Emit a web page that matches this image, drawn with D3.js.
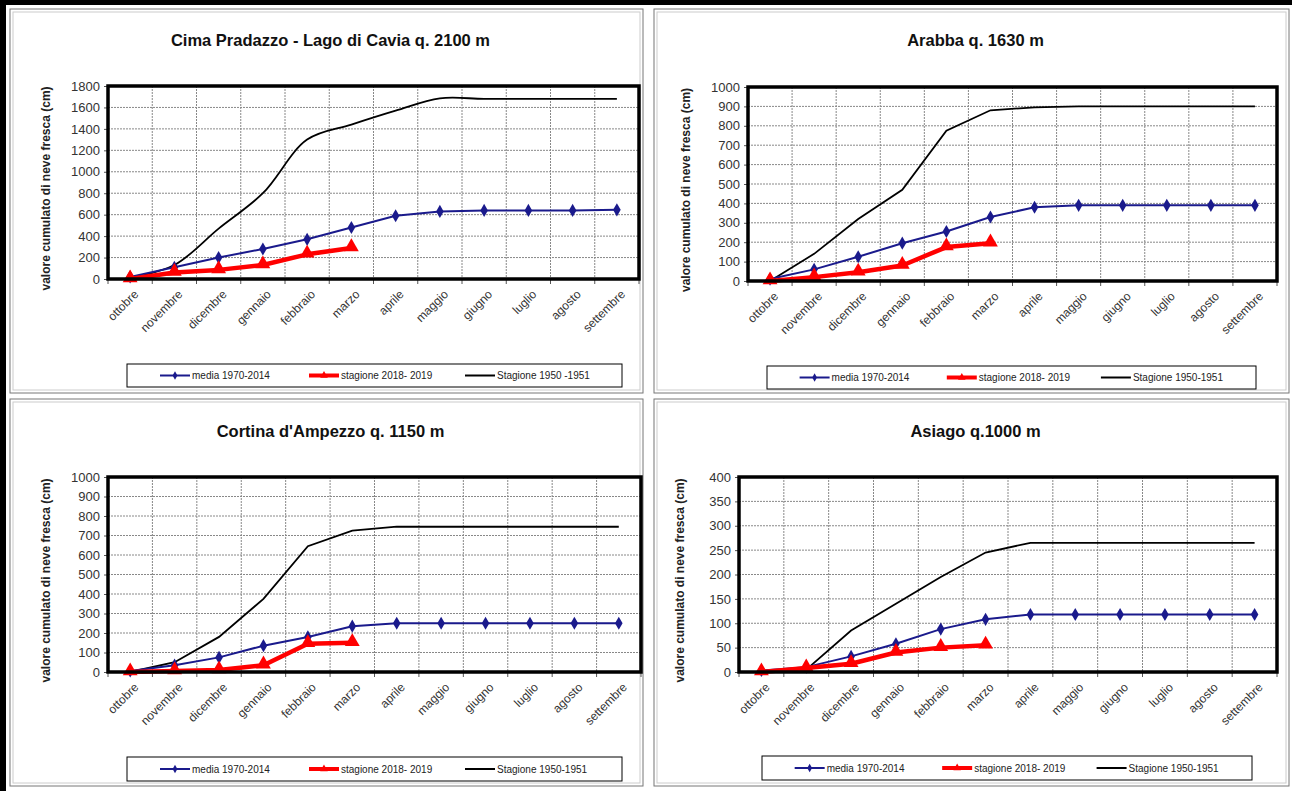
<!DOCTYPE html>
<html>
<head>
<meta charset="utf-8">
<script src="https://cdn.jsdelivr.net/npm/d3@7"></script>
<style>
  body { margin: 0; background: #fff; font-family: "Liberation Sans", Arial, sans-serif; }
  svg { display: block; }
</style>
</head>
<body>
<div id="chart"></div>
<script>
// Months on the x axis
const months = ["ottobre", "novembre", "dicembre", "gennaio", "febbraio", "marzo",
  "aprile", "maggio", "giugno", "luglio", "agosto", "settembre"];

// Cima Pradazzo - Lago di Cavia
const pradazzoMedia = [20, 110, 200, 280, 370, 480, 590, 630, 640, 640, 640, 645];
const pradazzoStagione = [0, 60, 85, 130, 230, 290];
const pradazzo1950 = [10, 130, 470, 800, 1300, 1440, 1570, 1685, 1680, 1680, 1680, 1680];
const pradazzoTicks = [0, 200, 400, 600, 800, 1000, 1200, 1400, 1600, 1800];

// Arabba
const arabbaMedia = [10, 60, 125, 195, 255, 330, 380, 390, 390, 390, 390, 390];
const arabbaStagione = [0, 20, 45, 80, 175, 195];
const arabba1950 = [0, 140, 320, 470, 775, 880, 895, 900, 900, 900, 900, 900];
const arabbaTicks = [0, 100, 200, 300, 400, 500, 600, 700, 800, 900, 1000];

// Cortina d'Ampezzo
const cortinaMedia = [5, 35, 75, 135, 180, 235, 250, 250, 250, 250, 250, 250];
const cortinaStagione = [0, 5, 10, 35, 145, 150];
const cortina1950 = [0, 50, 180, 375, 645, 725, 745, 745, 745, 745, 745, 745];
const cortinaTicks = [0, 100, 200, 300, 400, 500, 600, 700, 800, 900, 1000];

// Asiago
const asiagoMedia = [3, 10, 32, 58, 88, 108, 118, 118, 118, 118, 118, 118];
const asiagoStagione = [0, 8, 17, 40, 50, 55];
const asiago1950 = [null, 5, 85, 140, 195, 245, 265, 265, 265, 265, 265, 265];
const asiagoTicks = [0, 50, 100, 150, 200, 250, 300, 350, 400];

const legendLabels = ["media  1970-2014", "stagione 2018- 2019", "Stagione 1950-1951"];

const W = 1292, H = 791;
const svg = d3.select("#chart").append("svg").attr("width", W).attr("height", H);

// page frame
svg.append("rect").attr("x", 0).attr("y", 0).attr("width", W).attr("height", 5).attr("fill", "#000");
svg.append("rect").attr("x", 0).attr("y", 0).attr("width", 6).attr("height", H).attr("fill", "#000");

const panels = [
  { title: "Cima Pradazzo - Lago di Cavia q. 2100 m", media: pradazzoMedia, stagione: pradazzoStagione,
    old: pradazzo1950, ticks: pradazzoTicks, smooth: true, oldLabel: "Stagione 1950 -1951",
    cell: [10, 9, 633, 384], plot: [108, 86, 639, 279], titleY: 46, yLabelX: 50, legend: [127, 364, 495, 23] },
  { title: "Arabba q. 1630 m", media: arabbaMedia, stagione: arabbaStagione,
    old: arabba1950, ticks: arabbaTicks, smooth: false,
    cell: [654, 9, 635, 384], plot: [748, 87, 1277, 281], titleY: 46, yLabelX: 690, legend: [767, 366, 489, 23] },
  { title: "Cortina d'Ampezzo q. 1150 m", media: cortinaMedia, stagione: cortinaStagione,
    old: cortina1950, ticks: cortinaTicks, smooth: false,
    cell: [10, 399, 633, 387], plot: [108, 477, 641, 672], titleY: 437, yLabelX: 50, legend: [127, 757, 495, 24] },
  { title: "Asiago q.1000 m", media: asiagoMedia, stagione: asiagoStagione,
    old: asiago1950, ticks: asiagoTicks, smooth: false,
    cell: [654, 399, 635, 387], plot: [739, 477, 1277, 672], titleY: 437, yLabelX: 684, legend: [762, 756, 490, 24] }
];

panels.forEach(p => drawPanel(p));

function drawPanel(p) {
  const [cx, cy, cw, ch] = p.cell;
  // cell border (double line look)
  svg.append("rect").attr("x", cx).attr("y", cy).attr("width", cw).attr("height", ch)
    .attr("fill", "#fff").attr("stroke", "#777").attr("stroke-width", 1);
  svg.append("rect").attr("x", cx + 3).attr("y", cy + 3).attr("width", cw - 6).attr("height", ch - 6)
    .attr("fill", "none").attr("stroke", "#ccc").attr("stroke-width", 1);

  const [x0, y0, x1, y1] = p.plot;
  const x = d3.scaleBand().domain(months).range([x0, x1]);
  const y = d3.scaleLinear().domain([0, d3.max(p.ticks)]).range([y1, y0]);

  // title
  svg.append("text")
    .attr("x", (cx + cw / 2) + 4)
    .attr("y", p.titleY)
    .attr("text-anchor", "middle")
    .style("font-size", "16.5px")
    .style("font-weight", "bold")
    .attr("fill", "#111")
    .text(p.title);

  // horizontal grid
  svg.append("g").selectAll("line").data(p.ticks.slice(1, -1)).join("line")
    .attr("x1", x0).attr("x2", x1)
    .attr("y1", d => y(d)).attr("y2", d => y(d))
    .attr("stroke", "#888").attr("stroke-width", 1).attr("stroke-dasharray", "2,1");

  // vertical grid at category boundaries
  svg.append("g").selectAll("line").data(months.slice(1)).join("line")
    .attr("x1", d => x(d)).attr("x2", d => x(d))
    .attr("y1", y0).attr("y2", y1)
    .attr("stroke", "#888").attr("stroke-width", 1).attr("stroke-dasharray", "2,1");

  // y axis
  const yAxis = svg.append("g")
    .attr("transform", `translate(${x0},0)`)
    .call(d3.axisLeft(y).tickValues(p.ticks).tickSize(4).tickPadding(4).tickFormat(d3.format("d")));
  yAxis.select(".domain").remove();
  yAxis.selectAll("line").attr("stroke", "#555");
  yAxis.selectAll("text").style("font-size", "13px").style("font-family", "Liberation Sans, Arial")
    .attr("fill", "#333");

  // x axis ticks at boundaries
  svg.append("g").selectAll("line").data(months.concat(["end"])).join("line")
    .attr("x1", (d, i) => i < months.length ? x(d) : x1)
    .attr("x2", (d, i) => i < months.length ? x(d) : x1)
    .attr("y1", y1).attr("y2", y1 + 5)
    .attr("stroke", "#555");

  // month labels
  svg.append("g").selectAll("text").data(months).join("text")
    .attr("transform", d => `translate(${x(d) + x.bandwidth() / 2 + 6},${y1 + 13}) rotate(-45)`)
    .attr("text-anchor", "end")
    .attr("dy", "0.35em")
    .style("font-size", "12px")
    .attr("fill", "#333")
    .text(d => d);

  // y axis label
  svg.append("text")
    .attr("transform", `translate(${p.yLabelX},${(y0 + y1) / 2 + 6}) rotate(-90)`)
    .attr("text-anchor", "middle")
    .style("font-size", "12px")
    .style("font-weight", "bold")
    .attr("fill", "#222")
    .text("valore cumulato di neve fresca (cm)");

  const cxOf = i => x(months[i]) + x.bandwidth() / 2;

  // black 1950-51 line
  const oldLine = d3.line()
    .defined(d => d != null)
    .x((d, i) => cxOf(i))
    .y(d => y(d))
    .curve(p.smooth ? d3.curveCatmullRom.alpha(0.5) : d3.curveLinear);
  svg.append("path").datum(p.old)
    .attr("d", oldLine)
    .attr("fill", "none").attr("stroke", "#000").attr("stroke-width", 1.8);

  // blue media line
  const line = d3.line().x((d, i) => cxOf(i)).y(d => y(d));
  svg.append("path").datum(p.media)
    .attr("d", line)
    .attr("fill", "none").attr("stroke", "#1a1a8c").attr("stroke-width", 2);
  svg.append("g").selectAll("path").data(p.media).join("path")
    .attr("transform", (d, i) => `translate(${cxOf(i)},${y(d)})`)
    .attr("d", d3.symbol(d3.symbolDiamond, 50))
    .attr("fill", "#1a1a8c");

  // red 2018-19 line
  svg.append("path").datum(p.stagione)
    .attr("d", line)
    .attr("fill", "none").attr("stroke", "#f00").attr("stroke-width", 4.5)
    .attr("stroke-linejoin", "round");
  svg.append("g").selectAll("path").data(p.stagione).join("path")
    .attr("transform", (d, i) => `translate(${cxOf(i)},${y(d) - 1})`)
    .attr("d", d3.symbol(d3.symbolTriangle, 95))
    .attr("fill", "#f00");

  // plot border
  svg.append("rect")
    .attr("x", x0).attr("y", y0).attr("width", x1 - x0).attr("height", y1 - y0)
    .attr("fill", "none").attr("stroke", "#000").attr("stroke-width", 3.5);

  // legend
  const [lx, ly, lw, lh] = p.legend;
  const lg = svg.append("g").attr("transform", `translate(${lx},${ly})`);
  lg.append("rect").attr("width", lw).attr("height", lh)
    .attr("fill", "#fff").attr("stroke", "#000").attr("stroke-width", 1);
  const items = [
    { label: legendLabels[0], color: "#1a1a8c", w: 2, sym: d3.symbolDiamond, size: 20 },
    { label: legendLabels[1], color: "#f00", w: 4, sym: d3.symbolTriangle, size: 25 },
    { label: p.oldLabel || legendLabels[2], color: "#000", w: 2, sym: null }
  ];
  const offs = [33, 182, 338];
  items.forEach((it, i) => {
    const gx = offs[i] * lw / 495;
    const gy = lh / 2;
    lg.append("line").attr("x1", gx).attr("x2", gx + 30).attr("y1", gy).attr("y2", gy)
      .attr("stroke", it.color).attr("stroke-width", it.w);
    if (it.sym) {
      lg.append("path").attr("transform", `translate(${gx + 15},${gy})`)
        .attr("d", d3.symbol(it.sym, it.size)).attr("fill", it.color);
    }
    lg.append("text").attr("x", gx + 32).attr("y", gy).attr("dy", "0.35em")
      .style("font-size", "10px").attr("fill", "#222").text(it.label);
  });
}
</script>
</body>
</html>
